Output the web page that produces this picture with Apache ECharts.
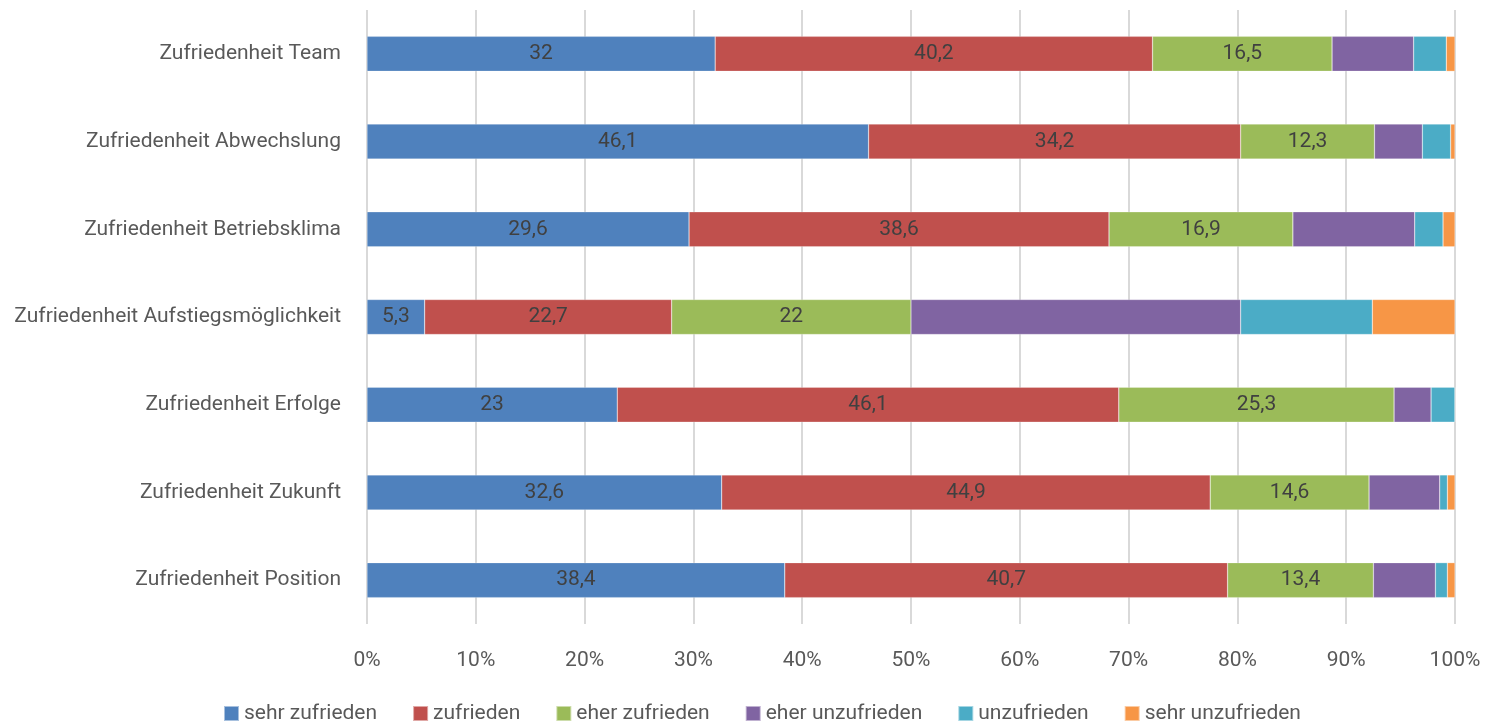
<!DOCTYPE html>
<html><head><meta charset="utf-8">
<script src="https://cdn.jsdelivr.net/npm/echarts@6/dist/echarts.min.js"></script>
<style>html,body{margin:0;padding:0;background:#fff}#c{width:1490px;height:728px}</style>
</head><body><div id="c"></div>
<script>
const categories = ["Zufriedenheit Team","Zufriedenheit Abwechslung","Zufriedenheit Betriebsklima","Zufriedenheit Aufstiegsmöglichkeit","Zufriedenheit Erfolge","Zufriedenheit Zukunft","Zufriedenheit Position"];
const seriesNames = ["sehr zufrieden","zufrieden","eher zufrieden","eher unzufrieden","unzufrieden","sehr unzufrieden"];
const sehrZufrieden   = [32, 46.1, 29.6, 5.3, 23, 32.6, 38.4];
const zufrieden       = [40.2, 34.2, 38.6, 22.7, 46.1, 44.9, 40.7];
const eherZufrieden   = [16.5, 12.3, 16.9, 22, 25.3, 14.6, 13.4];
const eherUnzufrieden = [7.5, 4.4, 11.2, 30.3, 3.4, 6.5, 5.7];
const unzufrieden     = [3.0, 2.6, 2.6, 12.1, 2.2, 0.7, 1.1];
const sehrUnzufrieden = [0.8, 0.4, 1.1, 7.6, 0, 0.7, 0.7];
const xTicks = [0,10,20,30,40,50,60,70,80,90,100];

const colors = ["#4F81BD","#C0504D","#9BBB59","#8064A2","#4BACC6","#F79646"];
const allData = [sehrZufrieden, zufrieden, eherZufrieden, eherUnzufrieden, unzufrieden, sehrUnzufrieden];
const FONT = "'Roboto', sans-serif";

const series = allData.map((d, i) => ({
  name: seriesNames[i],
  type: 'bar',
  stack: 'total',
  barWidth: 35,
  data: d,
  itemStyle: { color: colors[i], borderColor: 'rgba(255,255,255,0.5)', borderWidth: 0.5 },
  label: {
    show: i < 3,
    position: 'inside',
    color: '#404040',
    fontFamily: FONT,
    fontSize: 21,
    formatter: p => String(p.value).replace('.', ',')
  },
  emphasis: { disabled: true }
}));

const chart = echarts.init(document.getElementById('c'), null, { renderer: 'canvas' });
chart.setOption({
  animation: false,
  color: colors,
  grid: { left: 367, right: 35, top: 10, bottom: 104, containLabel: false },
  xAxis: {
    type: 'value', min: 0, max: 100, interval: 10,
    axisLine: { show: false }, axisTick: { show: false },
    splitLine: { show: true, lineStyle: { color: '#d9d9d9', width: 2 } },
    axisLabel: { margin: 26, color: '#595959', fontFamily: FONT, fontSize: 21, formatter: v => xTicks.includes(v) ? v + '%' : '' }
  },
  yAxis: {
    type: 'category', data: categories, inverse: true,
    axisLine: { show: false }, axisTick: { show: false },
    axisLabel: { margin: 26, color: '#595959', fontFamily: FONT, fontSize: 21 }
  },
  legend: {
    bottom: -1, left: 218, itemWidth: 15, itemHeight: 15, itemGap: 35,
    icon: 'rect', data: seriesNames,
    textStyle: { color: '#595959', fontFamily: FONT, fontSize: 21 }
  },
  series
});
</script></body></html>
